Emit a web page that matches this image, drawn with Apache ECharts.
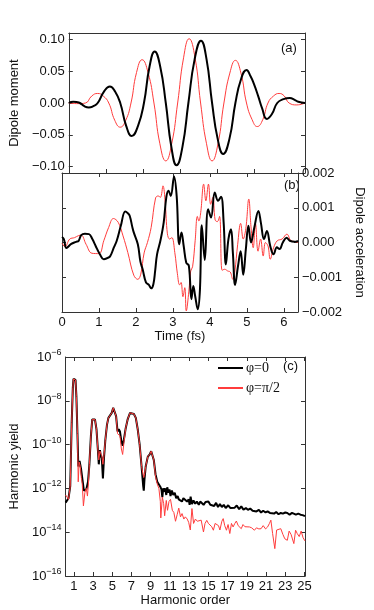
<!DOCTYPE html>
<html>
<head>
<meta charset="utf-8">
<script src="https://cdn.jsdelivr.net/npm/echarts@6/dist/echarts.min.js"></script>
<style>
html,body{margin:0;padding:0;background:#fff}
#main{width:374px;height:610px}
</style>
</head>
<body>
<div id="main"></div>
<script>
// ---- panel (a): dipole moment vs time (fs)
var momentTimeBlack = [0, 0.06, 0.12, 0.21, 0.30, 0.42, 0.54, 0.66, 0.78, 0.95, 1.11, 1.25, 1.39, 1.55, 1.70, 1.87, 2.03, 2.18, 2.32, 2.47, 2.62, 2.77, 2.91, 3.07, 3.23, 3.40, 3.57, 3.72, 3.87, 4.02, 4.17, 4.34, 4.50, 4.65, 4.80, 4.91, 5.00, 5.12, 5.22, 5.35, 5.49, 5.63, 5.80, 5.97, 6.10, 6.20, 6.38];
var momentBlack = [0, 0.0015, 0.002, 0.0015, 0, -0.005, -0.007, -0.005, 0, 0.018, 0.026, 0.018, 0, -0.036, -0.052, -0.036, 0, 0.057, 0.081, 0.057, 0, -0.069, -0.098, -0.069, 0, 0.069, 0.098, 0.069, 0, -0.056, -0.080, -0.056, 0, 0.037, 0.052, 0.042, 0.030, 0.010, -0.008, -0.025, -0.017, 0, 0.006, 0.008, 0.005, 0.002, 0];
var momentTimeRed = [0, 0.25, 0.45, 0.62, 0.78, 0.93, 1.08, 1.24, 1.39, 1.54, 1.68, 1.83, 1.98, 2.14, 2.30, 2.46, 2.62, 2.78, 2.94, 3.10, 3.25, 3.41, 3.56, 3.72, 3.87, 4.03, 4.19, 4.35, 4.50, 4.65, 4.80, 4.95, 5.09, 5.24, 5.38, 5.53, 5.68, 5.82, 5.95, 6.16, 6.38];
var momentRed = [0, -0.001, 0, 0.011, 0.015, 0.011, 0, -0.027, -0.038, -0.027, 0, 0.048, 0.068, 0.048, 0, -0.064, -0.091, -0.064, 0, 0.071, 0.101, 0.071, 0, -0.064, -0.091, -0.064, 0, 0.047, 0.067, 0.047, 0, -0.026, -0.037, -0.026, 0, 0.011, 0.015, 0.011, 0, -0.003, 0];

// ---- panel (b): dipole acceleration, in units of 1e-3
var accTimeBlack = [0, 0.05, 0.12, 0.25, 0.38, 0.45, 0.52, 0.62, 0.73, 0.82, 0.91, 1.02, 1.13, 1.22, 1.30, 1.40, 1.48, 1.59, 1.71, 1.78, 1.83, 1.90, 1.94, 2.05, 2.12, 2.18, 2.27, 2.35, 2.41, 2.47, 2.52, 2.57, 2.66, 2.75, 2.82, 2.88, 2.94, 3.03, 3.10, 3.17, 3.23, 3.29, 3.36, 3.43, 3.50, 3.55, 3.60, 3.67, 3.73, 3.78, 3.86, 3.95, 4.03, 4.13, 4.22, 4.30, 4.37, 4.43, 4.50, 4.57, 4.62, 4.68, 4.76, 4.83, 4.90, 4.97, 5.04, 5.11, 5.20, 5.31, 5.38, 5.46, 5.54, 5.63, 5.72, 5.81, 5.88, 5.97, 6.07, 6.16, 6.29, 6.38];
var accBlack = [0.16, 0.10, -0.16, -0.04, 0.02, 0.05, 0.21, 0.25, 0.24, 0.10, -0.10, -0.33, -0.48, -0.45, -0.40, -0.15, 0.05, 0.48, 0.89, 0.84, 0.77, 0.45, 0.29, -0.05, -0.55, -0.77, -1.15, -1.22, -1.32, -1.20, -0.80, -0.34, 0.05, 0.58, 1.30, 1.49, 1.34, 1.90, 1.34, -0.05, 0.29, -0.10, -0.58, -0.67, -1.63, -1.25, -1.54, -1.92, -1.35, 0.50, -0.50, 0.96, 0.72, 1.44, 1.20, 1.32, 0.58, -0.63, 0.10, 0.38, -0.30, -1.22, -0.67, -0.25, -0.93, -0.20, 0.48, 0.00, 0.43, 0.91, 0.55, 0.10, 0.33, -0.10, -0.34, -0.14, -0.19, 0.00, 0.14, 0.05, 0.02, 0.05];
var accTimeRed = [0, 0.08, 0.21, 0.34, 0.45, 0.52, 0.65, 0.81, 1.00, 1.13, 1.26, 1.39, 1.52, 1.65, 1.78, 1.94, 2.05, 2.13, 2.22, 2.31, 2.41, 2.53, 2.60, 2.66, 2.73, 2.79, 2.85, 2.91, 2.97, 3.05, 3.12, 3.18, 3.22, 3.27, 3.32, 3.36, 3.43, 3.48, 3.53, 3.60, 3.66, 3.70, 3.75, 3.83, 3.89, 3.96, 4.02, 4.08, 4.14, 4.20, 4.26, 4.33, 4.40, 4.48, 4.55, 4.62, 4.67, 4.75, 4.83, 4.90, 4.97, 5.05, 5.11, 5.17, 5.23, 5.30, 5.37, 5.44, 5.50, 5.57, 5.63, 5.72, 5.82, 5.95, 6.08, 6.19, 6.28, 6.38];
var accRed = [-0.02, -0.12, 0.10, 0.14, 0.20, 0.21, -0.05, -0.31, -0.32, 0.05, 0.43, 0.69, 0.58, 0.19, -0.29, -0.94, -1.06, -0.91, -0.30, 0.00, 0.43, 1.28, 1.34, 1.30, 1.63, 1.15, 0.25, 0.10, 0.14, -0.29, -0.90, -1.22, -1.15, -1.56, -1.30, -1.97, -1.40, -0.82, -0.70, 0.05, 0.75, 0.62, 0.86, 1.68, 1.20, 1.68, 1.10, 1.30, 0.65, 0.60, 0.75, -0.80, -0.77, -0.82, -0.85, -1.06, -0.86, -0.05, 0.55, 0.10, 0.40, 1.25, 0.45, -0.15, 0.55, -0.25, 0.10, -0.39, 0.00, -0.10, -0.48, -0.15, 0.05, 0.10, 0.24, 0.05, 0.03, 0.00];

// ---- panel (c): harmonic yield, log10 of the value
var orderBlack = [0.15, 0.45, 0.63, 0.78, 0.90, 0.97, 1.06, 1.18, 1.27, 1.38, 1.47, 1.60, 1.75, 1.90, 2.05, 2.30, 2.48, 2.62, 2.78, 2.92, 3.05, 3.20, 3.36, 3.50, 3.60, 3.72, 3.80, 3.91, 4.03, 4.14, 4.28, 4.45, 4.60, 4.80, 4.95, 5.10, 5.25, 5.40, 5.55, 5.68, 5.80, 5.95, 6.08, 6.22, 6.40, 6.60, 6.85, 7.05, 7.25, 7.45, 7.65, 7.85, 8.05, 8.22, 8.28, 8.35, 8.48, 8.70, 8.90, 9.05, 9.17, 9.32, 9.50, 9.68, 9.85, 10.03, 10.12, 10.21, 10.30, 10.40, 10.50, 10.62, 10.72, 10.85, 10.95, 11.06, 11.20, 11.35, 11.50, 11.65, 11.80, 11.92, 12.09, 12.25, 12.40, 12.60, 12.78, 12.95, 13.05, 13.15, 13.29, 13.45, 13.63, 13.80, 14.00, 14.15, 14.32, 14.50, 14.70, 14.85, 15.00, 15.20, 15.40, 15.60, 15.80, 16.00, 16.20, 16.40, 16.60, 16.80, 17.06, 17.30, 17.50, 17.74, 17.95, 18.20, 18.42, 18.65, 18.90, 19.11, 19.35, 19.60, 19.79, 20.00, 20.25, 20.48, 20.70, 20.95, 21.16, 21.40, 21.60, 21.84, 22.05, 22.30, 22.53, 22.75, 23.00, 23.21, 23.45, 23.70, 23.89, 24.10, 24.35, 24.58, 24.80, 25.05];
var yieldBlackLog = [-12.65, -12.45, -11.9, -9.0, -7.4, -7.0, -6.93, -7.05, -7.8, -9.5, -11.0, -10.75, -11.1, -11.6, -12.1, -12.05, -11.7, -10.9, -9.6, -8.85, -8.77, -8.85, -9.3, -10.2, -10.9, -10.25, -10.5, -10.6, -11.55, -10.6, -9.8, -9.1, -8.78, -8.72, -8.55, -8.32, -8.35, -8.7, -9.4, -9.3, -9.4, -9.85, -10.05, -9.75, -9.25, -8.85, -8.55, -8.48, -8.6, -8.78, -9.3, -10.0, -11.0, -11.9, -12.1, -11.6, -11.0, -10.55, -10.45, -10.3, -10.35, -10.7, -11.35, -11.7, -11.75, -11.95, -12.05, -12.4, -12.0, -12.15, -12.0, -12.3, -11.95, -12.2, -12.05, -12.35, -12.1, -12.3, -12.2, -12.45, -12.35, -12.5, -12.45, -12.6, -12.45, -12.42, -12.6, -12.5, -12.75, -12.38, -12.72, -12.55, -12.7, -12.6, -12.75, -12.6, -12.62, -12.75, -12.62, -12.7, -12.6, -12.75, -12.68, -12.8, -12.66, -12.85, -12.72, -12.85, -12.75, -12.9, -12.77, -12.9, -12.82, -12.88, -12.78, -12.95, -12.82, -12.97, -12.9, -12.98, -12.92, -13.02, -12.95, -13.05, -12.98, -13.1, -13.02, -13.1, -13.05, -13.12, -13.08, -13.15, -13.08, -13.18, -13.12, -13.15, -13.1, -13.12, -13.2, -13.12, -13.16, -13.2, -13.15, -13.2, -13.22, -13.27];
var orderRed = [0.15, 0.30, 0.45, 0.63, 0.78, 0.90, 0.97, 1.06, 1.18, 1.27, 1.38, 1.46, 1.56, 1.68, 1.78, 1.88, 2.00, 2.15, 2.30, 2.42, 2.52, 2.62, 2.78, 2.92, 3.05, 3.20, 3.36, 3.50, 3.60, 3.72, 3.80, 3.91, 4.03, 4.14, 4.28, 4.45, 4.60, 4.80, 4.95, 5.10, 5.25, 5.40, 5.55, 5.68, 5.80, 5.95, 6.08, 6.22, 6.40, 6.60, 6.85, 7.05, 7.25, 7.45, 7.65, 7.85, 8.05, 8.22, 8.28, 8.35, 8.48, 8.70, 8.90, 9.05, 9.17, 9.32, 9.50, 9.68, 9.85, 10.00, 10.05, 10.21, 10.35, 10.45, 10.62, 10.75, 10.90, 11.06, 11.25, 11.41, 11.58, 11.75, 11.92, 12.10, 12.26, 12.45, 12.60, 12.80, 12.95, 13.12, 13.29, 13.46, 13.65, 13.85, 14.05, 14.25, 14.49, 14.65, 14.83, 15.00, 15.20, 15.35, 15.52, 15.70, 15.86, 16.05, 16.20, 16.40, 16.54, 16.70, 16.88, 17.05, 17.23, 17.40, 17.57, 17.75, 17.91, 18.10, 18.25, 18.42, 18.60, 18.80, 19.00, 19.27, 19.50, 19.79, 20.00, 20.25, 20.48, 20.70, 20.95, 21.16, 21.35, 21.50, 21.68, 21.91, 22.10, 22.30, 22.53, 22.75, 22.95, 23.21, 23.40, 23.60, 23.89, 24.07, 24.24, 24.45, 24.65, 24.85, 25.05];
var yieldRedLog = [-12.3, -12.4, -12.5, -11.9, -9.0, -7.4, -7.0, -6.93, -7.05, -7.8, -9.5, -11.7, -10.8, -11.0, -11.5, -11.8, -12.8, -12.2, -12.0, -12.35, -11.8, -10.9, -9.6, -8.85, -8.77, -8.85, -9.3, -10.2, -10.7, -10.3, -10.4, -10.5, -10.9, -10.5, -9.8, -9.1, -8.78, -8.72, -8.55, -8.32, -8.35, -8.7, -9.5, -9.5, -9.6, -10.2, -10.45, -9.9, -9.25, -8.85, -8.55, -8.48, -8.6, -8.78, -9.3, -10.0, -11.0, -11.4, -11.5, -11.4, -11.0, -10.55, -10.45, -10.3, -10.35, -10.7, -11.45, -11.8, -12.0, -12.6, -13.35, -12.4, -12.7, -13.25, -12.55, -13.0, -12.6, -12.5, -13.0, -13.1, -13.5, -13.2, -12.9, -13.3, -13.15, -13.4, -13.3, -13.4, -13.55, -13.9, -12.92, -13.6, -13.4, -13.5, -13.55, -13.45, -13.99, -13.6, -13.46, -13.6, -13.55, -13.75, -13.91, -13.6, -13.53, -13.7, -13.9, -13.5, -13.38, -13.7, -13.91, -13.65, -14.06, -13.6, -13.76, -13.6, -13.49, -13.7, -13.75, -13.84, -13.65, -13.75, -13.7, -13.76, -13.8, -13.91, -13.8, -13.85, -13.84, -13.7, -13.85, -13.76, -13.6, -13.45, -14.06, -14.75, -13.9, -13.95, -13.84, -14.1, -14.3, -14.37, -13.95, -14.1, -14.52, -13.91, -14.06, -14.2, -13.95, -14.25, -14.4];

var timeTicks = [0, 1, 2, 3, 4, 5, 6];
var momentTicks = [-0.1, -0.05, 0, 0.05, 0.1];
var accTicks = [-0.002, -0.001, 0, 0.001, 0.002];
var orderTicks = [1, 3, 5, 7, 9, 11, 13, 15, 17, 19, 21, 23, 25];

var FONT = '"Liberation Sans", Arial, Helvetica, sans-serif';
var SERIF = '"Liberation Serif", "Times New Roman", serif';
var LINE = '#333';
var TXT = '#111';

function pairs(xs, ys, f) {
  var out = [];
  for (var i = 0; i < xs.length; i++) out.push([xs[i], f ? f(ys[i]) : ys[i]]);
  return out;
}
function fixedMinus(d) {
  return function (v) {
    var s = Math.abs(v).toFixed(d);
    return v < -1e-12 ? '\u2212' + s : s;
  };
}
function pow10Label(v) {
  var e = Math.round(Math.log(v) / Math.LN10);
  return '{b|10}{s|' + (e < 0 ? '\u2212' : '') + Math.abs(e) + '}';
}

// one side of a plot box
function side(grid, pos, min, max, tickVals, labelVals, fmt) {
  return {
    type: 'value', gridIndex: grid, position: pos, min: min, max: max,
    splitLine: { show: false },
    axisLine: { show: true, onZero: false, lineStyle: { color: LINE, width: 1 } },
    axisTick: tickVals ? { show: true, inside: true, length: 4, customValues: tickVals, lineStyle: { color: LINE } } : { show: false },
    axisLabel: labelVals ? { show: true, customValues: labelVals, formatter: fmt, color: TXT, fontFamily: FONT, fontSize: 13, margin: 4 } : { show: false },
    nameTextStyle: { color: TXT, fontFamily: FONT, fontSize: 13 }
  };
}

var xAxes = [
  side(0, 'bottom', 0, 6.38, timeTicks, null),
  side(0, 'top', 0, 6.38, null, null),
  side(1, 'bottom', 0, 6.38, timeTicks, timeTicks, function (v) { return String(v); }),
  side(1, 'top', 0, 6.38, timeTicks, null),
  side(2, 'bottom', 0.15, 25.05, orderTicks, orderTicks, function (v) { return String(v); }),
  side(2, 'top', 0.15, 25.05, orderTicks, null)
];
xAxes[2].name = 'Time (fs)';
xAxes[2].nameLocation = 'middle';
xAxes[2].nameGap = 18;
xAxes[4].name = 'Harmonic order';
xAxes[4].nameLocation = 'middle';
xAxes[4].nameGap = 15;

var yAxes = [
  side(0, 'left', -0.11, 0.11, momentTicks, momentTicks, fixedMinus(2)),
  side(0, 'right', -0.11, 0.11, momentTicks, null),
  side(1, 'left', -0.002, 0.002, accTicks, null),
  side(1, 'right', -0.002, 0.002, accTicks, accTicks, fixedMinus(3)),
  side(2, 'left', 1e-16, 1e-6, null, null),
  side(2, 'right', 1e-16, 1e-6, null, null)
];
yAxes[0].name = 'Dipole moment';
yAxes[0].nameLocation = 'middle';
yAxes[0].nameGap = 40;
yAxes[3].name = 'Dipole acceleration';
yAxes[3].nameLocation = 'middle';
yAxes[3].nameRotate = -90;
yAxes[3].nameGap = 45;
// log axis for the harmonic spectrum
[4, 5].forEach(function (i) {
  var a = yAxes[i];
  a.type = 'log';
  a.logBase = 10;
  a.interval = 2;
  a.axisTick = { show: true, inside: true, length: 4, lineStyle: { color: LINE } };
  a.minorTick = { show: false };
});
yAxes[4].axisLabel = {
  show: true, formatter: pow10Label, margin: 4, fontFamily: FONT, color: TXT,
  rich: { b: { fontSize: 13, fontFamily: FONT, color: TXT }, s: { fontSize: 9, fontFamily: FONT, color: TXT, padding: [0, 0, 9, 0] } }
};
yAxes[4].name = 'Harmonic yield';
yAxes[4].nameLocation = 'middle';
yAxes[4].nameGap = 42;

function curve(name, xi, yi, xs, ys, color, w, smooth, f) {
  return {
    name: name, type: 'line', xAxisIndex: xi, yAxisIndex: yi,
    data: pairs(xs, ys, f), symbol: 'none',
    smooth: smooth || false,
    lineStyle: { color: color, width: w }, itemStyle: { color: color }
  };
}
var RED = '#ff3c3c';
var milli = function (v) { return v * 1e-3; };
var pow10 = function (v) { return Math.pow(10, v); };

var option = {
  animation: false,
  textStyle: { fontFamily: FONT },
  grid: [
    { left: 62, top: 33, width: 243, height: 140 },
    { left: 62, top: 173, width: 243, height: 139 },
    { left: 62, top: 357, width: 243, height: 219 }
  ],
  xAxis: xAxes,
  yAxis: yAxes,
  legend: {
    data: ['\u03c6=0', '\u03c6=\u03c0/2'],
    orient: 'vertical', left: 217, top: 361, padding: 0,
    itemWidth: 25, itemHeight: 10, itemGap: 6,
    itemStyle: { opacity: 0 },
    textStyle: { fontFamily: SERIF, fontSize: 14, color: TXT, padding: [0, 0, 0, -2] }
  },
  graphic: [
    { type: 'text', left: 281, top: 42, style: { text: '(a)', font: '13px ' + FONT, fill: TXT } },
    { type: 'text', left: 284, top: 179, style: { text: '(b)', font: '13px ' + FONT, fill: TXT } },
    { type: 'text', left: 283, top: 360, style: { text: '(c)', font: '13px ' + FONT, fill: TXT } }
  ],
  series: [
    curve('a-red', 0, 0, momentTimeRed, momentRed, RED, 1, 0.5),
    curve('a-black', 0, 0, momentTimeBlack, momentBlack, '#000', 2, 0.5),
    curve('b-red', 2, 2, accTimeRed, accRed, RED, 1, 0.4, milli),
    curve('b-black', 2, 2, accTimeBlack, accBlack, '#000', 2, 0.4, milli),
    curve('\u03c6=0', 4, 4, orderBlack, yieldBlackLog, '#000', 2, false, pow10),
    curve('\u03c6=\u03c0/2', 4, 4, orderRed, yieldRedLog, RED, 1, false, pow10)
  ]
};

var chart = echarts.init(document.getElementById('main'));
chart.setOption(option);
</script>
</body>
</html>
